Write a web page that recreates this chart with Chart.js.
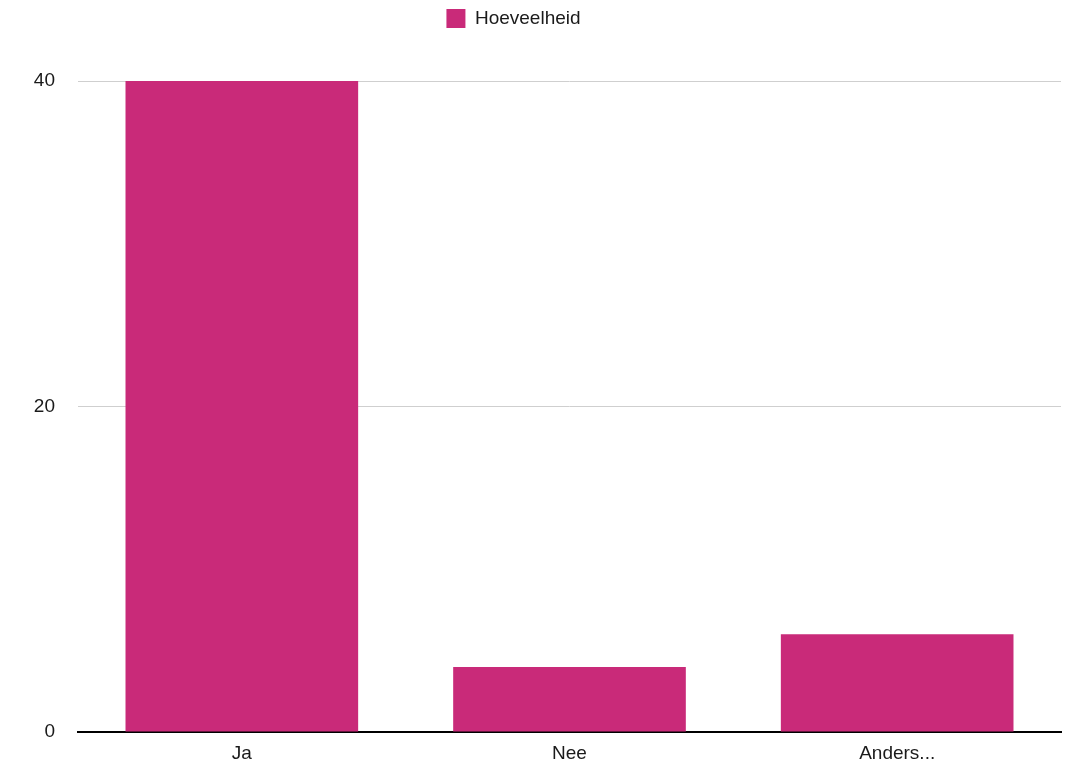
<!DOCTYPE html>
<html>
<head>
<meta charset="utf-8">
<script src="https://cdn.jsdelivr.net/npm/chart.js@4"></script>
<style>
  html, body { margin: 0; padding: 0; background: #fff; }
  #wrap { width: 1065px; height: 767px; }
</style>
</head>
<body>
<div id="wrap"><canvas id="grafico"></canvas></div>
<script>
// categorieën en waarden
var categories = ['Ja', 'Nee', 'Anders...'];
var hoeveelheid = [40, 4, 6];
var yTicks = [0, 20, 40];

var lettertype = { family: 'Liberation Sans, Arial, sans-serif', size: 19 };

var ctx = document.querySelector('#grafico').getContext('2d');
var chart = new Chart(ctx, {
    type: 'bar',
    data: {
        labels: categories,
        datasets: [{
            label: 'Hoeveelheid',
            backgroundColor: '#C92A79',
            borderWidth: 0,
            data: hoeveelheid,
            categoryPercentage: 1,
            barPercentage: 0.71
        }]
    },
    plugins: [{
        // legenda iets naar links schuiven, zoals in het origineel
        id: 'shiftLegend',
        afterLayout: function (c) {
            c.legend.left -= 17;
            c.legend.right -= 17;
        }
    }],
    options: {
        responsive: true,
        maintainAspectRatio: false,
        animation: false,
        layout: { padding: { left: 0, right: 4, top: 0, bottom: 0 } },
        plugins: {
            legend: {
                position: 'top',
                labels: {
                    boxWidth: 19,
                    boxHeight: 19,
                    padding: 9,
                    color: '#1a1a1a',
                    font: lettertype
                }
            },
            tooltip: { enabled: false }
        },
        scales: {
            x: {
                grid: { display: false },
                border: { display: true, color: '#000', width: 2 },
                ticks: {
                    color: '#1a1a1a',
                    padding: 2,
                    font: lettertype
                },
                afterFit: function (s) { s.height = 35; }
            },
            y: {
                min: 0,
                max: 40,
                afterBuildTicks: function (s) {
                    s.ticks = yTicks.map(function (v) { return { value: v }; });
                },
                grid: { color: '#cfcfcf', drawTicks: false },
                border: { display: false },
                ticks: {
                    color: '#1a1a1a',
                    padding: 23,
                    font: lettertype
                },
                afterFit: function (s) { s.width = 78; }
            }
        }
    }
});

// hoogte legenda vastzetten zodat de grafiek bij y=81 begint
var origFit = chart.legend.fit;
chart.legend.fit = function () {
    origFit.call(this);
    this.height = 81;
};
chart.update();
</script>
</body>
</html>
